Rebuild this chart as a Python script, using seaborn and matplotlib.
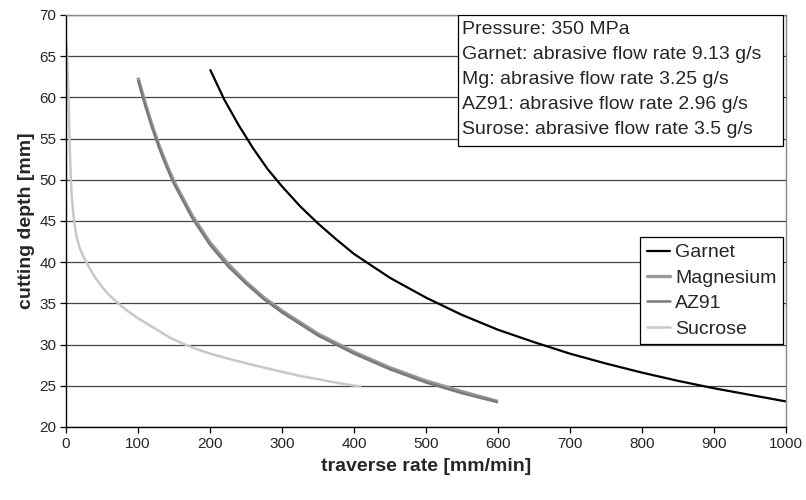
import pandas as pd
import matplotlib.pyplot as plt
from matplotlib.patches import Rectangle
import seaborn as sns

# values
garnet_x = [200, 220, 240, 260, 280, 300, 325, 350, 375, 400, 450, 500, 550, 600,
            650, 700, 750, 800, 850, 900, 950, 1000]
garnet_y = [63.4, 59.7, 56.6, 53.8, 51.3, 49.2, 46.8, 44.7, 42.8, 41.0, 38.1, 35.7,
            33.6, 31.8, 30.3, 28.9, 27.7, 26.6, 25.6, 24.7, 23.9, 23.1]

mg_x = [100, 110, 120, 130, 140, 150, 175, 200, 225, 250, 275, 300, 350, 400,
        450, 500, 550, 600]
mg_y = [62.4, 59.3, 56.5, 54.0, 51.8, 49.8, 45.7, 42.4, 39.8, 37.6, 35.7, 34.1,
        31.3, 29.1, 27.2, 25.6, 24.3, 23.1]

az91_x = [100, 110, 120, 130, 140, 150, 175, 200, 225, 250, 275, 300, 350, 400,
          450, 500, 550, 600]
az91_y = [62.1, 59.0, 56.2, 53.7, 51.5, 49.5, 45.4, 42.1, 39.5, 37.4, 35.5, 33.9,
          31.1, 28.9, 27.0, 25.4, 24.1, 23.0]

sucrose_x = [0.5, 1.5, 2.5, 3.5, 4.5, 5.5, 6.5, 8, 10, 12, 15, 19, 24, 30, 40, 50,
             60, 70, 85, 100, 115, 130, 145, 163, 180, 200, 225, 256, 280, 300,
             325, 350, 380, 410]
sucrose_y = [66.5, 65.0, 62.5, 60.0, 56.5, 53.0, 50.5, 48.0, 46.0, 44.5, 43.0, 41.7,
             40.7, 39.7, 38.2, 37.0, 36.0, 35.2, 34.1, 33.2, 32.4, 31.6, 30.8, 30.1,
             29.5, 28.9, 28.3, 27.6, 27.1, 26.7, 26.2, 25.8, 25.3, 24.9]

materials = ["Garnet", "Magnesium", "AZ91", "Sucrose"]
colors = ["#000000", "#9a9a9a", "#7a7a7a", "#c8c8c8"]
widths = [1.6, 2.4, 1.8, 1.8]

info_lines = ["Pressure: 350 MPa",
              "Garnet: abrasive flow rate 9.13 g/s",
              "Mg: abrasive flow rate 3.25 g/s",
              "AZ91: abrasive flow rate 2.96 g/s",
              "Surose: abrasive flow rate 3.5 g/s"]

frames = []
for name, xs, ys in zip(materials, [garnet_x, mg_x, az91_x, sucrose_x],
                        [garnet_y, mg_y, az91_y, sucrose_y]):
    frames.append(pd.DataFrame({"rate": xs, "depth": ys, "material": name}))
df = pd.concat(frames, ignore_index=True)

sns.set_style("white")
plt.rcParams["font.family"] = ["Liberation Sans", "DejaVu Sans"]

fig = plt.figure(figsize=(8.06, 5.0), dpi=100)
ax = fig.add_axes([0.0819, 0.146, 0.8933, 0.824])

sns.lineplot(data=df, x="rate", y="depth", hue="material", hue_order=materials,
             palette=colors, estimator=None, sort=False, ax=ax, legend=False)
for line, w in zip(ax.lines, widths):
    line.set_linewidth(w)
    line.set_solid_capstyle("butt")

ax.set_xlim(0, 1000)
ax.set_ylim(20, 70)
ax.set_xticks(range(0, 1001, 100))
ax.set_yticks(range(20, 71, 5))
ax.yaxis.grid(True, color="#444444", linewidth=0.9)
ax.set_axisbelow(True)
ax.tick_params(axis="both", direction="out", length=4, width=0.9, color="black",
               labelsize=11, bottom=True, left=True, pad=3)
for side in ["left", "bottom"]:
    ax.spines[side].set_color("black")
    ax.spines[side].set_linewidth(1.0)
for side in ["top", "right"]:
    ax.spines[side].set_color("#888888")
    ax.spines[side].set_linewidth(1.0)

ax.set_xlabel("traverse rate [mm/min]", fontsize=14, fontweight="bold", labelpad=5)
ax.set_ylabel("cutting depth [mm]", fontsize=14, fontweight="bold", labelpad=3)

handles = [plt.Line2D([], [], color=c, lw=w) for c, w in zip(colors, widths)]
leg = ax.legend(handles, materials, loc="upper right", bbox_to_anchor=(0.996, 0.461),
                fontsize=14, frameon=True, fancybox=False, framealpha=1,
                handlelength=1.2, handletextpad=0.25, labelspacing=0.4,
                borderpad=0.35, borderaxespad=0)
leg.get_frame().set_edgecolor("black")
leg.get_frame().set_linewidth(0.9)

# info box in the upper right corner
ax.add_patch(Rectangle((0.544, 0.683), 0.452, 0.317, transform=ax.transAxes,
                       facecolor="white", edgecolor="black", linewidth=0.9, zorder=5))
for i, txt in enumerate(info_lines):
    ax.text(0.550, 0.966 - i * 0.0607, txt, transform=ax.transAxes, fontsize=14,
            va="center", ha="left", zorder=6)

fig.savefig("out.png", dpi=100)
